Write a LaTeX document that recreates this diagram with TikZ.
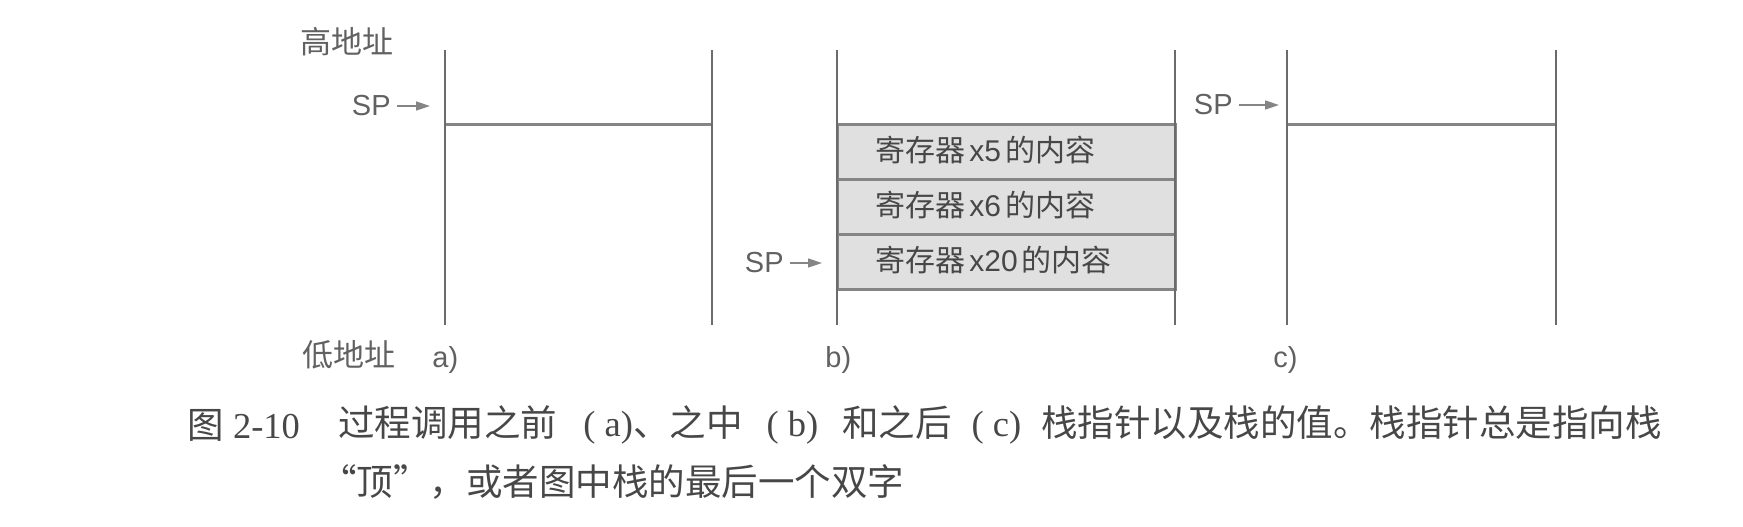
\documentclass[tikz,border=0pt]{standalone}
\usepackage{fontspec}
\setmainfont{Liberation Serif}
\setsansfont{Liberation Sans}
\newfontfamily\cjk{Noto Sans CJK SC}
\usetikzlibrary{arrows.meta,positioning}
\definecolor{ink}{gray}{0.28}
\definecolor{mid}{gray}{0.38}
\definecolor{rule}{gray}{0.42}
\definecolor{soft}{gray}{0.52}
\definecolor{cell}{gray}{0.88}
\newcommand{\zh}[1]{{\cjk #1}}
\newcommand{\reg}[1]{\zh{寄存器}\hspace{2pt}{\sffamily x#1}\hspace{2pt}\zh{的内容}}

\begin{document}
\begin{tikzpicture}[x=0.5pt,y=-0.5pt,
   wall/.style={draw=rule, line width=1pt},
   level/.style={draw=soft, line width=1.5pt},
   slot/.style={level, fill=cell},
   ptr/.style={draw=soft, line width=0.8pt, shorten <=3pt, -{Triangle[length=7pt,width=4.5pt]}},
   lbl/.style={mid, font=\sffamily\fontsize{14.5}{16}\selectfont, inner sep=0pt},
   addr/.style={mid, font=\cjk\fontsize{15.5}{17}\selectfont, inner sep=0pt, anchor=west},
   cellt/.style={ink, font=\cjk\fontsize{15}{17}\selectfont, inner sep=0pt, anchor=west},
   captext/.style={ink, font=\fontsize{18.25}{21}\selectfont, inner sep=0pt, anchor=west}]
  \useasboundingbox (0,0) rectangle (1743,526);
  % address labels
  \node[addr] (hi) at (300,42) {高地址};
  \node[addr] (lo) at (302,355) {低地址};
  % panel a (before the call)
  \coordinate (aTL) at (445,50);  \coordinate (aBL) at (445,325);
  \coordinate (aTR) at (712,50);  \coordinate (aBR) at (712,325);
  \coordinate (aL) at (445,124);  \coordinate (aR) at (712,124);
  \draw[level] (aL) -- (aR);
  \draw[wall] (aTL) -- (aBL) (aTR) -- (aBR);
  \node[lbl, anchor=east] (spA) at (391,106) {SP};
  \coordinate (tipA) at (430,106);
  \draw[ptr] (spA) -- (tipA);
  \node[lbl, anchor=west] (capA) at (432,360) {a)};
  % panel b (during the call)
  \foreach \y/\r [count=\i] in {124/5, 179/6, 234/20} {
    \draw[slot] (837,\y) rectangle (1175,\y+55);
    \node[cellt] (row\i) at (875,\y+26) {\reg{\r}};
  }
  \coordinate (bTL) at (837,50);  \coordinate (bBL) at (837,325);
  \coordinate (bTR) at (1175,50); \coordinate (bBR) at (1175,325);
  \draw[wall] (bTL) -- (bBL) (bTR) -- (bBR);
  \node[lbl, anchor=east] (spB) at (784,263) {SP};
  \coordinate (tipB) at (822,263);
  \draw[ptr] (spB) -- (tipB);
  \node[lbl, anchor=west] (capB) at (825,360) {b)};
  % panel c (after the call)
  \coordinate (cTL) at (1287,50);  \coordinate (cBL) at (1287,325);
  \coordinate (cTR) at (1556,50);  \coordinate (cBR) at (1556,325);
  \coordinate (cL) at (1287,124);  \coordinate (cR) at (1556,124);
  \draw[level] (cL) -- (cR);
  \draw[wall] (cTL) -- (cBL) (cTR) -- (cBR);
  \node[lbl, anchor=east] (spC) at (1233,105) {SP};
  \coordinate (tipC) at (1279,105);
  \draw[ptr] (spC) -- (tipC);
  \node[lbl, anchor=west] (capC) at (1273,360) {c)};
  % caption
  \node[captext] (fig) at (187,425) {\zh{图} 2-10};
  \node[captext] (cap1) at (338,425) {\zh{过程调用之前}\hspace{13pt}( a)\zh{、之中}\hspace{12pt}( b)\hspace{12pt}\zh{和之后}\hspace{10pt}( c)\hspace{10pt}\zh{栈指针以及栈的值。栈指针总是指向栈}};
  \node[captext] (cap2) at (320,482) {\zh{“顶”，或者图中栈的最后一个双字}};
\end{tikzpicture}
\end{document}
